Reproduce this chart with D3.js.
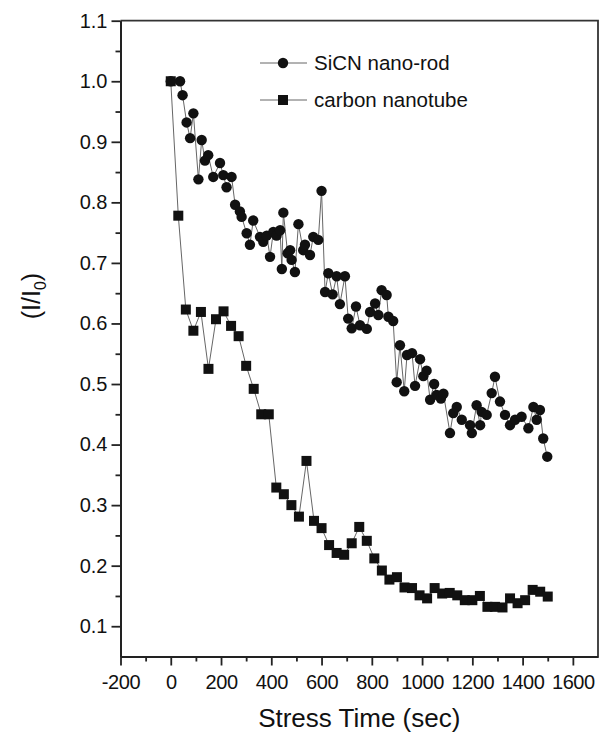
<!DOCTYPE html>
<html>
<head>
<meta charset="utf-8">
<script src="https://cdn.jsdelivr.net/npm/d3@7"></script>
<style>
  html, body { margin: 0; padding: 0; background: #fff; }
  svg { display: block; }
  text { font-family: "Liberation Sans", Arial, sans-serif; fill: #111; }
</style>
</head>
<body>
<svg id="chart" width="606" height="737"></svg>
<script>
// ---- data ----
const sicnTime = [0, 37, 47, 63, 77, 90, 110, 123, 136, 149, 169, 196, 209, 222, 242, 256, 275, 282,
  302, 315, 328, 355, 368, 382, 395, 408, 421, 435, 442, 448, 465, 475, 481, 494, 508, 527, 534, 554, 567, 587,
  600, 614, 627, 644, 660, 673, 693, 706, 720, 737, 753, 780, 793, 813, 826, 839, 859, 866, 885,
  899, 912, 929, 940, 960, 972, 992, 1005, 1018, 1032, 1048, 1058, 1075, 1085, 1111, 1124, 1138,
  1158, 1191, 1198, 1217, 1231, 1237, 1257, 1277, 1290, 1310, 1330, 1350, 1370, 1396, 1423,
  1443, 1456, 1469, 1482, 1498];
const sicnValue = [1.0, 1.0, 0.977, 0.932, 0.906, 0.947, 0.838, 0.903, 0.869, 0.878, 0.842, 0.865, 0.845, 0.825, 0.842, 0.796, 0.785, 0.776,
  0.749, 0.730, 0.770, 0.743, 0.735, 0.745, 0.710, 0.751, 0.745, 0.754, 0.690, 0.783, 0.716, 0.721, 0.705, 0.685, 0.764, 0.721, 0.730, 0.713, 0.743, 0.738,
  0.819, 0.652, 0.683, 0.648, 0.678, 0.632, 0.678, 0.608, 0.592, 0.628, 0.597, 0.591, 0.619, 0.633, 0.614, 0.655, 0.647, 0.611, 0.604,
  0.503, 0.564, 0.488, 0.548, 0.551, 0.497, 0.541, 0.513, 0.522, 0.474, 0.500, 0.482, 0.476, 0.484, 0.419, 0.452, 0.462,
  0.441, 0.432, 0.419, 0.465, 0.432, 0.454, 0.449, 0.485, 0.512, 0.471, 0.449, 0.432, 0.441, 0.446, 0.427,
  0.462, 0.441, 0.457, 0.410, 0.380];

const cntTime = [0, 30, 60, 90, 120, 150, 180, 210, 240, 270, 300, 330, 360, 390, 420, 450, 480, 510, 540, 570,
  600, 630, 660, 690, 720, 750, 780, 810, 840, 870, 900, 930, 960, 990, 1020, 1050, 1080, 1110, 1140, 1170,
  1200, 1230, 1260, 1290, 1320, 1350, 1380, 1410, 1440, 1470, 1500];
const cntValue = [1.0, 0.778, 0.623, 0.588, 0.619, 0.525, 0.607, 0.620, 0.596, 0.579, 0.530, 0.492, 0.450, 0.450, 0.329, 0.318, 0.300, 0.281, 0.373, 0.274,
  0.262, 0.234, 0.221, 0.218, 0.237, 0.264, 0.241, 0.212, 0.192, 0.177, 0.181, 0.164, 0.163, 0.151, 0.146, 0.163, 0.154, 0.155, 0.151, 0.143,
  0.143, 0.150, 0.132, 0.132, 0.131, 0.146, 0.138, 0.143, 0.160, 0.157, 0.149];

const xMajorTicks = [-200, 0, 200, 400, 600, 800, 1000, 1200, 1400, 1600];
const xMinorTicks = [-100, 100, 300, 500, 700, 900, 1100, 1300, 1500];
const yMajorTicks = [0.1, 0.2, 0.3, 0.4, 0.5, 0.6, 0.7, 0.8, 0.9, 1.0, 1.1];
const yMinorTicks = [0.15, 0.25, 0.35, 0.45, 0.55, 0.65, 0.75, 0.85, 0.95, 1.05];
const seriesNames = ["SiCN nano-rod", "carbon nanotube"];
const xTitle = "Stress Time (sec)";

// ---- layout ----
const L = 120.5, R = 598, T = 20.7, B = 656.5;
const svg = d3.select("#chart");
const x = d3.scaleLinear().domain([-200, 1700]).range([L, R]);
const y = d3.scaleLinear().domain([0.05, 1.1]).range([B, T]);

// frame (top & right)
svg.append("path")
  .attr("d", `M${L},${T}H${R}V${B}`)
  .attr("fill", "none").attr("stroke", "#333").attr("stroke-width", 1.8);

// axes
const fs = 20;
const fmtX = d => String(d);          // plain hyphen minus, as in the reference
const fmtY = d => d.toFixed(1);
const gx = svg.append("g").attr("transform", `translate(0,${B})`)
  .call(d3.axisBottom(x).tickValues(xMajorTicks).tickSize(9).tickSizeOuter(0).tickPadding(9).tickFormat(fmtX));
const gxm = svg.append("g").attr("transform", `translate(0,${B})`)
  .call(d3.axisBottom(x).tickValues(xMinorTicks).tickSize(5).tickSizeOuter(0).tickFormat(""));
const gy = svg.append("g").attr("transform", `translate(${L},0)`)
  .call(d3.axisLeft(y).tickValues(yMajorTicks).tickSize(9).tickSizeOuter(0).tickPadding(4).tickFormat(fmtY));
const gym = svg.append("g").attr("transform", `translate(${L},0)`)
  .call(d3.axisLeft(y).tickValues(yMinorTicks).tickSize(5).tickSizeOuter(0).tickFormat(""));

[gx, gxm, gy, gym].forEach(g => {
  g.select(".domain").attr("stroke", "#222").attr("stroke-width", 2);
  g.selectAll(".tick line").attr("stroke", "#222").attr("stroke-width", 1.8);
  g.selectAll("text").attr("font-size", fs).attr("fill", "#111")
    .attr("font-family", '"Liberation Sans", Arial, sans-serif');
});
gx.selectAll("text").attr("letter-spacing", -0.4);

// titles
svg.append("text").attr("x", (L + R) / 2).attr("y", 727).attr("text-anchor", "middle")
  .attr("font-size", 26).text(xTitle);
const yt = svg.append("text").attr("transform", `translate(40,${296}) rotate(-90)`)
  .attr("text-anchor", "middle").attr("font-size", 25);
yt.append("tspan").text("(I/I");
yt.append("tspan").attr("font-size", 16).attr("dy", 6).text("0");
yt.append("tspan").attr("dy", -6).text(")");

// series
const sicn = sicnTime.map((t, i) => [t, sicnValue[i]]);
const cnt = cntTime.map((t, i) => [t, cntValue[i]]);
const line = d3.line().x(d => x(d[0])).y(d => y(d[1]));

svg.append("path").datum(sicn).attr("d", line)
  .attr("fill", "none").attr("stroke", "#666").attr("stroke-width", 1);
svg.append("path").datum(cnt).attr("d", line)
  .attr("fill", "none").attr("stroke", "#666").attr("stroke-width", 1);

svg.append("g").selectAll("circle").data(sicn).join("circle")
  .attr("cx", d => x(d[0])).attr("cy", d => y(d[1])).attr("r", 5.2).attr("fill", "#111");
const sq = 10;
svg.append("g").selectAll("rect").data(cnt).join("rect")
  .attr("x", d => x(d[0]) - sq / 2).attr("y", d => y(d[1]) - sq / 2)
  .attr("width", sq).attr("height", sq).attr("fill", "#111");

// legend
const lg = svg.append("g");
const legY = [63, 100];
legY.forEach((ly, i) => {
  lg.append("line").attr("x1", 260).attr("x2", 307).attr("y1", ly).attr("y2", ly)
    .attr("stroke", "#666").attr("stroke-width", 1);
  if (i === 0) lg.append("circle").attr("cx", 283).attr("cy", ly).attr("r", 5.2).attr("fill", "#111");
  else lg.append("rect").attr("x", 283 - sq / 2).attr("y", ly - sq / 2).attr("width", sq).attr("height", sq).attr("fill", "#111");
  lg.append("text").attr("x", 314).attr("y", ly + 7).attr("font-size", 20.5).text(seriesNames[i]);
});
</script>
</body>
</html>
